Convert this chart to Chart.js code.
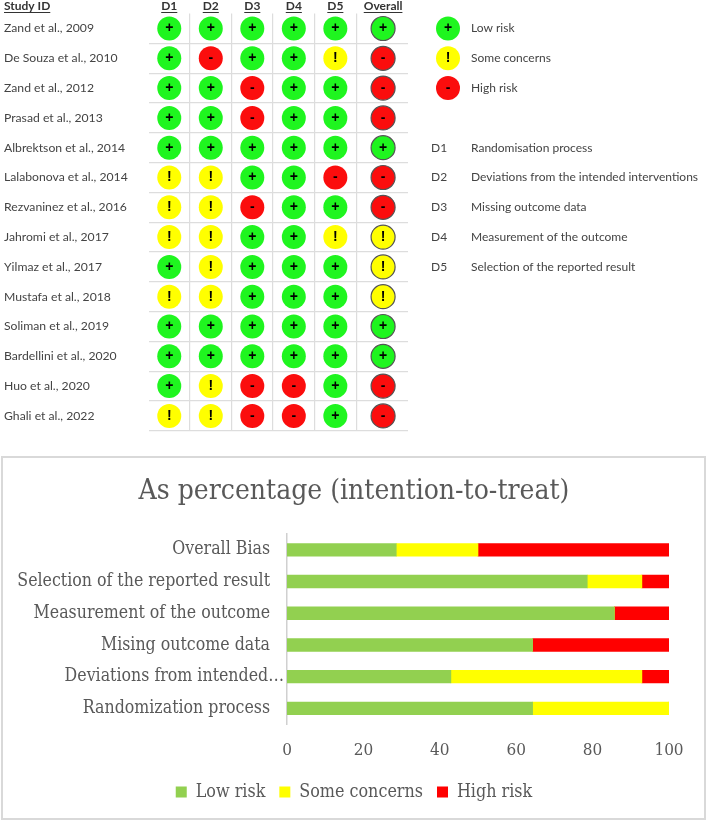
<!DOCTYPE html>
<html><head><meta charset="utf-8">
<script src="https://cdn.jsdelivr.net/npm/chart.js@4"></script>
<style>
html,body{margin:0;padding:0;background:#fff;width:708px;height:822px;overflow:hidden}
#top{position:absolute;left:0;top:0}
#bottom{position:absolute;left:0;top:456px}
#frame{position:absolute;left:1px;top:456px;width:705px;height:364px;box-sizing:border-box;border:2px solid #d9d9d9;pointer-events:none}
</style></head><body>
<canvas id="top" width="708" height="444" style="width:708px;height:444px"></canvas>
<canvas id="bottom" width="708" height="366" style="width:708px;height:366px"></canvas>
<div id="frame"></div>
<script>
const studies=["Zand et al., 2009","De Souza et al., 2010","Zand et al., 2012","Prasad et al., 2013","Albrektson et al., 2014","Lalabonova et al., 2014","Rezvaninez et al., 2016","Jahromi et al., 2017","Yilmaz et al., 2017","Mustafa et al., 2018","Soliman et al., 2019","Bardellini et al., 2020","Huo et al., 2020","Ghali et al., 2022"];
const domains=["D1","D2","D3","D4","D5","Overall"];
const D1=["+","+","+","+","+","!","!","!","+","!","+","+","+","!"];
const D2=["+","-","+","+","+","!","!","!","!","!","+","+","!","!"];
const D3=["+","+","-","-","+","+","-","+","+","+","+","+","-","-"];
const D4=["+","+","+","+","+","+","+","+","+","+","+","+","-","-"];
const D5=["+","!","+","+","+","-","+","!","+","+","+","+","+","+"];
const Overall=["+","-","-","-","+","-","-","!","!","!","+","+","-","-"];
const judgementNames=["Low risk","Some concerns","High risk"];
const judgementSymbols=["+","!","-"];
const domainNames=["Randomisation process","Deviations from the intended interventions","Missing outcome data","Measurement of the outcome","Selection of the reported result"];

const barCategories=["Overall Bias","Selection of the reported result","Measurement of the outcome","Mising outcome data","Deviations from intended…","Randomization process"];
const barLow=[28.6,78.6,85.7,64.3,42.9,64.3];
const barSome=[21.4,14.3,0,0,50,35.7];
const barHigh=[50,7.1,14.3,35.7,7.1,0];
const barTitle="As percentage (intention-to-treat)";
const xTicks=[0,20,40,60,80,100];

const colours={"+":"#1ff51f","!":"#ffff00","-":"#fb0d0d"};
const colCentres=[0.5,1.5,2.5,3.5,4.5,5.65];
const colEdges=[0,1,2,3,4,5,6.25];
const uiFont="Lato";
const columns=[D1,D2,D3,D4,D5,Overall];

const datasets=columns.map((col,i)=>({
  label:domains[i],
  data:col.map((v,r)=>({x:colCentres[i],y:studies[r],s:v})),
  pointRadius:12,pointHoverRadius:12,
  pointBackgroundColor:col.map(v=>colours[v]),
  pointBorderColor:i===5?"#555555":col.map(v=>colours[v]),
  pointBorderWidth:i===5?1.2:0,
  showLine:false
}));

const matrixText={
  id:"matrixText",
  afterDatasetsDraw(chart){
    const c=chart.ctx,x=chart.scales.x,y=chart.scales.y;
    c.save();
    c.textBaseline="middle";c.textAlign="center";c.fillStyle="#000";
    c.font="bold 14px 'Liberation Sans'";
    chart.data.datasets.forEach((ds,i)=>{
      const meta=chart.getDatasetMeta(i);
      ds.data.forEach((d,k)=>{const p=meta.data[k];c.fillText(d.s,p.x,p.y);});
    });
    judgementSymbols.forEach((s,i)=>{
      const py=y.getPixelForValue(i);
      c.beginPath();c.arc(448,py,12,0,Math.PI*2);c.fillStyle=colours[s];c.fill();
      c.fillStyle="#000";c.fillText(s,448,py);
    });
    c.textAlign="left";c.fillStyle="#444";c.font="12px "+uiFont;
    const tx=471;
    judgementNames.forEach((t,i)=>c.fillText(t,tx,y.getPixelForValue(i)));
    domainNames.forEach((t,i)=>{
      const py=y.getPixelForValue(i+4);
      c.fillText("D"+(i+1),431,py);
      c.fillText(t,tx,py);
    });
    c.fillStyle="#333";c.font="bold 12px "+uiFont;
    const hy=6;
    c.fillText("Study ID",4,hy);
    c.strokeStyle="#333";c.lineWidth=1;
    const under=(sx,w)=>{c.beginPath();c.moveTo(sx,hy+6.5);c.lineTo(sx+w,hy+6.5);c.stroke();};
    under(4,c.measureText("Study ID").width);
    domains.forEach((t,i)=>{
      const w=c.measureText(t).width,px=x.getPixelForValue(colCentres[i]);
      under(px-w/2,w);
    });
    c.restore();
  }
};

new Chart(document.getElementById("top"),{
  type:"scatter",
  data:{datasets},
  plugins:[matrixText],
  options:{
    responsive:false,animation:false,
    layout:{padding:{left:4,right:300,top:0,bottom:5.5}},
    plugins:{legend:{display:false},title:{display:false},tooltip:{enabled:false}},
    scales:{
      x:{type:"linear",position:"top",min:0,max:6.25,
        afterBuildTicks(s){s.ticks=colCentres.map(v=>({value:v}));},
        afterFit(s){s.height=13.6;},
        grid:{display:false,drawTicks:false},border:{display:false},
        ticks:{autoSkip:false,maxRotation:0,padding:0,color:"#333",font:{family:uiFont,size:12,weight:"bold"},
          callback(v,i){return domains[i];}}
      },
      xGrid:{type:"linear",position:"bottom",axis:"x",min:0,max:6.25,
        afterBuildTicks(s){s.ticks=colEdges.map(v=>({value:v}));},
        afterFit(s){s.height=0;},
        ticks:{display:false},border:{display:false},
        grid:{drawTicks:false,lineWidth:1.2,color(ctx){return (ctx.index===0||ctx.index===6)?"rgba(0,0,0,0)":"#dddddd";}}
      },
      y:{type:"category",labels:studies,offset:true,
        afterFit(s){s.width=144.5;},
        border:{display:false},
        grid:{offset:true,drawTicks:false,lineWidth:1.2,color(ctx){return ctx.index===0?"rgba(0,0,0,0)":"#dddddd";}},
        ticks:{autoSkip:false,crossAlign:"far",padding:0,color:"#444",font:{family:uiFont,size:12.2}}
      }
    }
  }
});

const longLabelShift={
  id:"longLabelShift",
  beforeDraw(chart){
    const items=chart.scales.y.getLabelItems();
    const it=items[4];
    if(it&&!it._moved){it.options.translation=[it.options.translation[0]+14,it.options.translation[1]];it._moved=true;}
  }
};
const serif="DejaVu Serif Condensed";
new Chart(document.getElementById("bottom"),{
  type:"bar",
  data:{labels:barCategories,datasets:[
    {label:"Low risk",data:barLow,backgroundColor:"#92d050"},
    {label:"Some concerns",data:barSome,backgroundColor:"#ffff00"},
    {label:"High risk",data:barHigh,backgroundColor:"#ff0000"}
  ]},
  plugins:[longLabelShift],
  options:{
    indexAxis:"y",responsive:false,animation:false,
    barThickness:12.7,
    layout:{padding:{left:0,right:0,top:0,bottom:11}},
    plugins:{
      tooltip:{enabled:false},
      title:{display:true,text:barTitle,color:"#595959",font:{family:serif,size:28,weight:"normal"},padding:{top:19,bottom:25.4}},
      legend:{position:"bottom",labels:{boxWidth:11,boxHeight:11,padding:14,color:"#595959",font:{family:serif,size:17.8}}}
    },
    scales:{
      x:{stacked:true,min:0,max:100,
        afterBuildTicks(s){s.ticks=xTicks.map(v=>({value:v}));},
        afterFit(s){s.height=45;},
        grid:{display:false,drawTicks:false},border:{display:false},
        ticks:{padding:16.5,maxRotation:0,color:"#595959",font:{family:serif,size:17}}
      },
      y:{stacked:true,
        afterFit(s){s.width=287;},
        grid:{display:false,drawTicks:false},
        border:{display:true,color:"#d0d0d0",width:1.5},
        ticks:{autoSkip:false,padding:17,color:"#595959",font:{family:serif,size:17.6}}
      },
      rightGutter:{type:"linear",position:"right",axis:"y",
        afterFit(s){s.width=39;},
        grid:{display:false,drawTicks:false},border:{display:false},ticks:{display:false}
      }
    }
  }
});
</script>
</body></html>
